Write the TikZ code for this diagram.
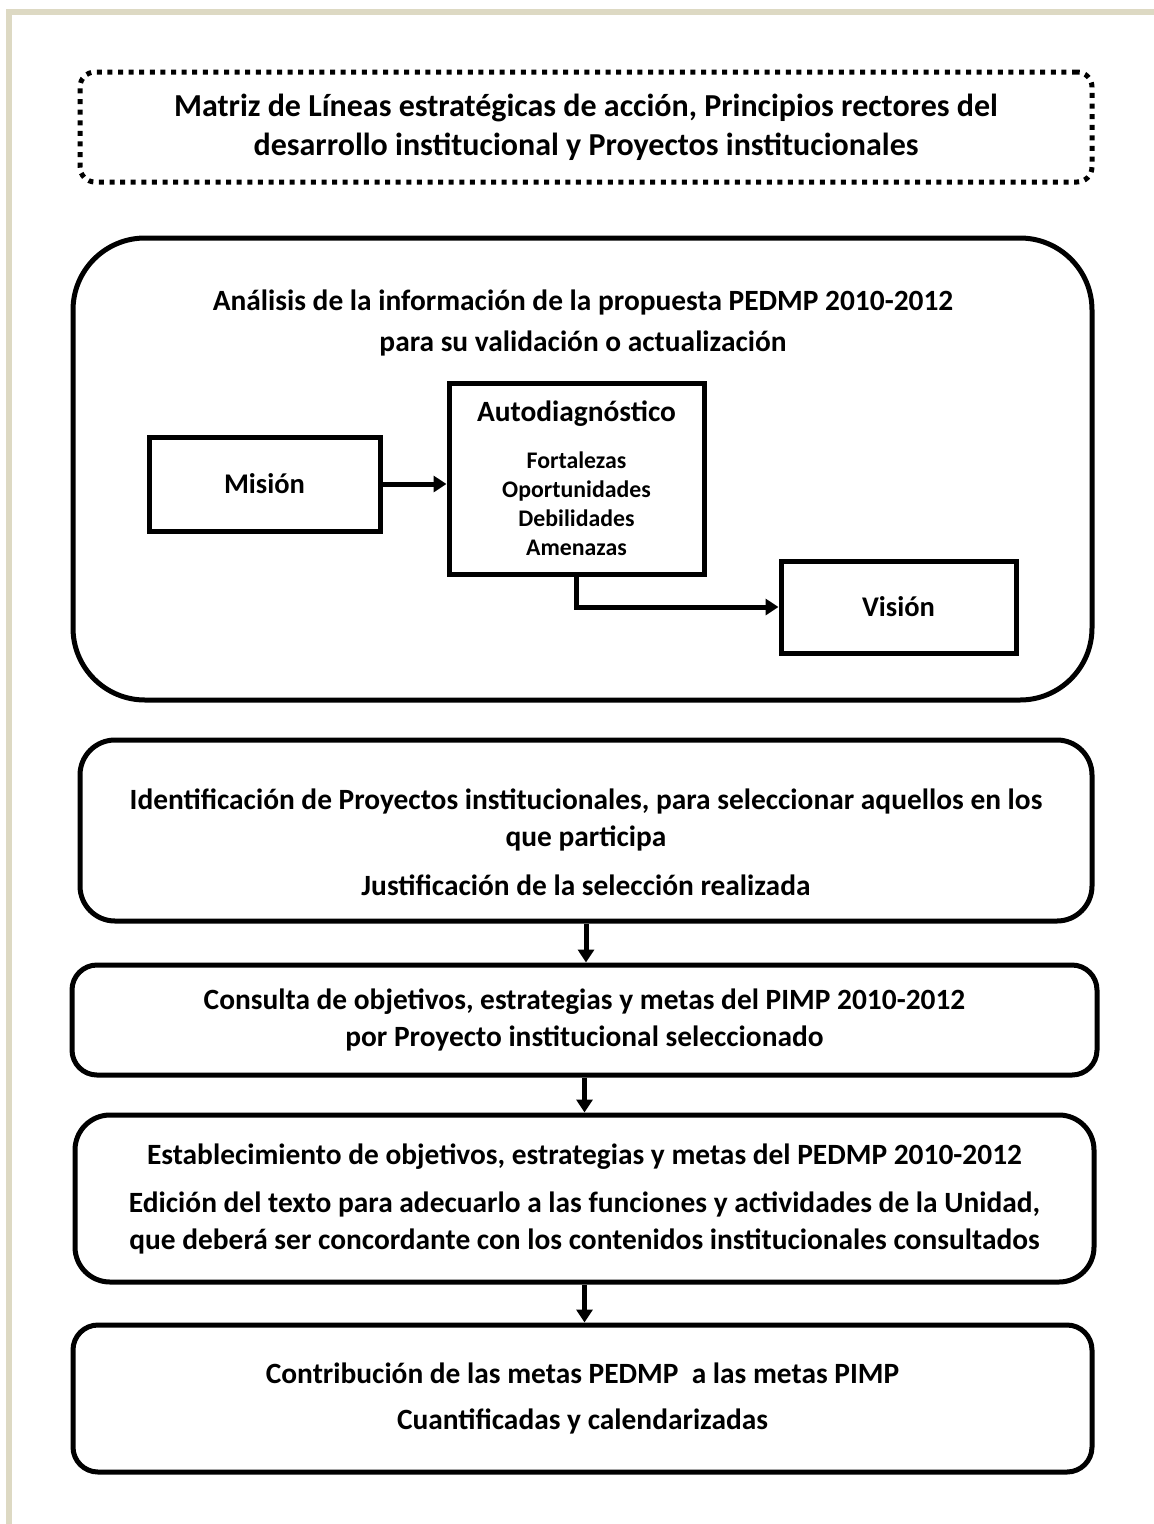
\documentclass[tikz,border=0pt]{standalone}
\usepackage{fontspec}
\setmainfont{Carlito}
\usetikzlibrary{arrows.meta, positioning}

\definecolor{marco}{HTML}{DDD9C3}

\begin{document}
\begin{tikzpicture}[
  x=1pt, y=-1pt,
  caja/.style={draw, line width=5pt, rounded corners=#1, align=center, inner sep=0pt,
    font=\bfseries\fontsize{29.4}{37}\selectfont},
  caja/.default=30pt,
  cuadro/.style={draw, line width=5pt, align=center, inner sep=0pt,
    font=\bfseries\fontsize{28.5}{34}\selectfont},
  punteada/.style={draw, line width=5pt, dash pattern=on 5pt off 5.6pt, rounded corners=15pt,
    align=center, inner sep=0pt, font=\bfseries\fontsize{32}{39}\selectfont},
  flecha/.style={-{Triangle[length=13pt, width=16pt]}, line width=5pt}
]
\useasboundingbox (0,0) rectangle (1154,1524);
\fill[white] (0,0) rectangle (1154,1524);
\fill[marco] (6,9) rectangle (1154,15);
\fill[marco] (6,9) rectangle (12,1524);

\node[punteada, minimum width=1012pt, minimum height=110pt] (titulo) at (586,127)
  {Matriz de Líneas estratégicas de acción, Principios rectores del\\
   desarrollo institucional y Proyectos institucionales};

% analisis de la propuesta
\node[caja=72pt, minimum width=1019pt, minimum height=462pt] (analisis) at (582.5,469) {};
\node[align=center, font=\bfseries\fontsize{29.4}{37}\selectfont] (analisisTit) at (583,323)
  {Análisis de la información de la propuesta PEDMP 2010-2012\\[4pt]
   para su validación o actualización};

\node[cuadro, minimum width=231pt, minimum height=94pt] (mision) at (264.5,484) {Misión};
\node[cuadro, minimum width=255pt, minimum height=191pt, font=\bfseries\fontsize{23.8}{29}\selectfont]
  (autodiag) at (576.5,478.5)
  {{\fontsize{29.4}{29}\selectfont Autodiagnóstico}\\[18pt]
   Fortalezas\\Oportunidades\\Debilidades\\Amenazas};
\node[cuadro, minimum width=235pt, minimum height=92pt] (vision) at (898.5,607) {Visión};

\draw[flecha] (mision.east) -- (mision.east -| autodiag.west);
\draw[flecha] (autodiag.south) |- (vision.west);

% etapas
\node[caja=35pt, minimum width=1012pt, minimum height=181pt] (ident) at (586,830.5)
  {\rule{0pt}{45pt}Identificación de Proyectos institucionales, para seleccionar aquellos en los\\
   que participa\\[12pt]
   Justificación de la selección realizada};
\node[caja=25pt, minimum width=1025pt, minimum height=110pt] (consulta) at (584.5,1020)
  {Consulta de objetivos, estrategias y metas del PIMP 2010-2012\\
   por Proyecto institucional seleccionado};
\node[caja=35pt, minimum width=1019pt, minimum height=167pt] (estab) at (584.5,1198.5)
  {Establecimiento de objetivos, estrategias y metas del PEDMP 2010-2012\\[11pt]
   Edición del texto para adecuarlo a las funciones y actividades de la Unidad,\\
   que deberá ser concordante con los contenidos institucionales consultados};
\node[caja=25pt, minimum width=1019pt, minimum height=147pt] (contrib) at (582.5,1398.5)
  {Contribución de las metas PEDMP\ \ a las metas PIMP\\[9pt]
   Cuantificadas y calendarizadas};

\draw[flecha] (ident.south) -- (ident.south |- consulta.north);
\draw[flecha] (consulta.south) -- (consulta.south |- estab.north);
\draw[flecha] (estab.south) -- (estab.south |- contrib.north);
\end{tikzpicture}
\end{document}
